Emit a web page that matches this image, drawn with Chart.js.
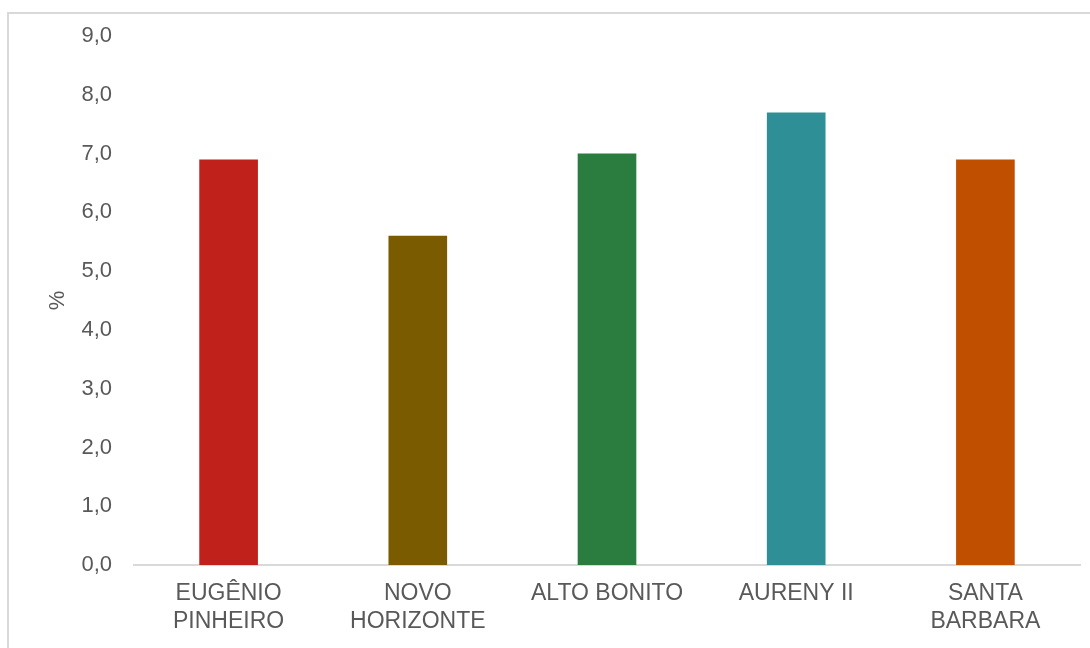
<!DOCTYPE html>
<html>
<head>
<meta charset="utf-8">
<script src="https://cdn.jsdelivr.net/npm/chart.js@4"></script>
<style>
  html, body { margin: 0; padding: 0; background: #fff; }
  #wrap { width: 1090px; height: 648px; position: relative; }
</style>
</head>
<body>
<div id="wrap"><canvas id="chart"></canvas></div>
<script>
const categories = [
  ['EUGÊNIO', 'PINHEIRO'],
  ['NOVO', 'HORIZONTE'],
  'ALTO BONITO',
  'AURENY II',
  ['SANTA', 'BARBARA'],
];
const values = [6.9, 5.6, 7.0, 7.7, 6.9];
const barColors = ['#C0211A', '#7A5B00', '#2A7D3F', '#2E8F97', '#C05000'];
const yTicks = [0, 1, 2, 3, 4, 5, 6, 7, 8, 9];

const COLORS = {
  text: '#595959',
  axis: '#d9d9d9',
  frame: '#d9d9d9',
};
const FAMILY = "'Liberation Sans', Arial, sans-serif";
const X_FONT = { family: FAMILY, size: 23, lineHeight: 1.2 };
const Y_FONT = { family: FAMILY, size: 22 };

const framePlugin = {
  id: 'frame',
  beforeDraw(chart) {
    const ctx = chart.ctx;
    ctx.save();
    ctx.strokeStyle = COLORS.frame;
    ctx.lineWidth = 2;
    ctx.strokeRect(8, 13, chart.width + 10, chart.height + 10);
    ctx.restore();
  },
};

new Chart(document.getElementById('chart'), {
  type: 'bar',
  data: {
    labels: categories,
    datasets: [{
      data: values,
      backgroundColor: barColors,
      borderWidth: 0,
      barPercentage: 0.31,
      categoryPercentage: 1,
    }],
  },
  options: {
    responsive: true,
    maintainAspectRatio: false,
    animation: false,
    layout: { padding: { top: 36, right: 10, left: 0, bottom: 0 } },
    plugins: { legend: { display: false }, tooltip: { enabled: false } },
    scales: {
      x: {
        grid: { display: false, drawTicks: false },
        border: { color: COLORS.axis, width: 2 },
        ticks: { color: COLORS.text, font: X_FONT, padding: 15, maxRotation: 0, autoSkip: false },
        afterFit: (scale) => { scale.height = 83; scale.paddingLeft = 0; scale.paddingRight = 0; },
      },
      y: {
        min: 0,
        max: 9,
        afterBuildTicks: (scale) => { scale.ticks = yTicks.map((v) => ({ value: v })); },
        grid: { display: false, drawTicks: false },
        border: { display: false },
        ticks: {
          color: COLORS.text,
          font: Y_FONT,
          padding: 22,
          callback: (v) => v.toFixed(1).replace('.', ','),
        },
        title: { display: true, text: '%', color: COLORS.text, font: Y_FONT, padding: { top: 45, bottom: 0 } },
        afterFit: (scale) => { scale.width = 134; scale.paddingTop = 0; scale.paddingBottom = 0; },
      },
    },
  },
  plugins: [framePlugin],
});
</script>
</body>
</html>
